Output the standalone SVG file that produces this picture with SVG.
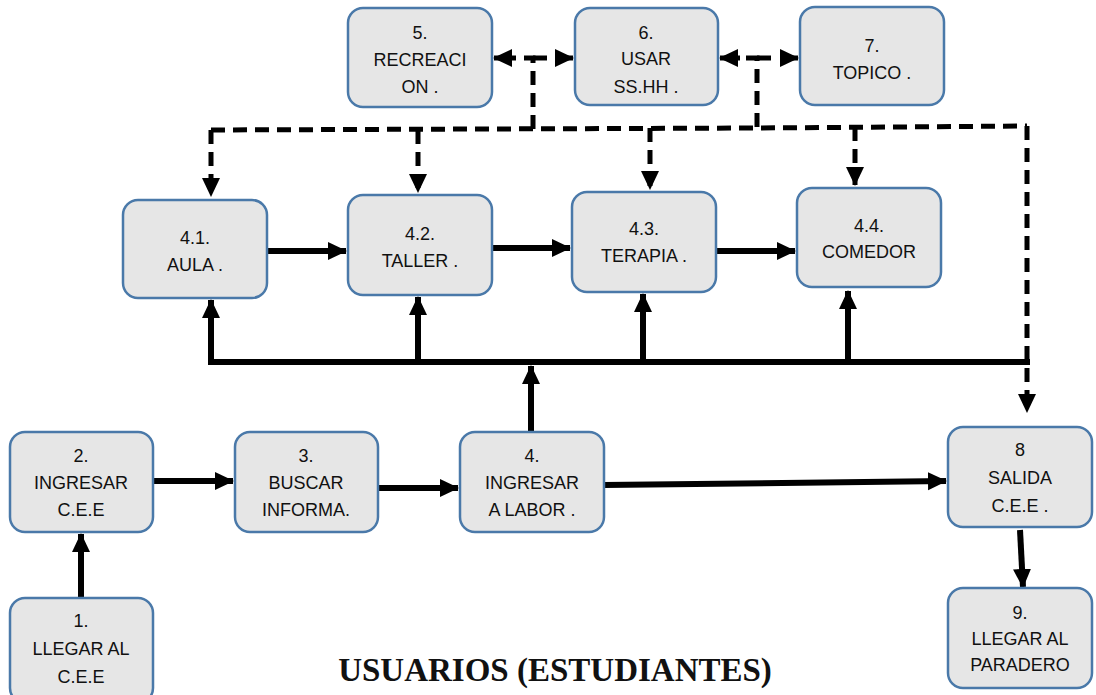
<svg xmlns="http://www.w3.org/2000/svg" width="1096" height="695" viewBox="0 0 1096 695">
<defs>
<style>
.box{fill:#e6e6e6;stroke:#4a79a9;stroke-width:2.5}
.t{font-family:"Liberation Sans",Arial,sans-serif;font-size:18px;fill:#111;text-anchor:middle}
.s{fill:none;stroke:#000;stroke-width:6}
.d{fill:none;stroke:#000;stroke-width:5;stroke-dasharray:14 8}
.title{font-family:"Liberation Serif","Times New Roman",serif;font-size:33px;font-weight:bold;fill:#111;text-anchor:middle}
</style>
<marker id="ah" markerUnits="userSpaceOnUse" markerWidth="20" markerHeight="20" viewBox="0 0 20 20" refX="18" refY="10" orient="auto">
<path d="M0,1 L19,10 L0,19 Z" fill="#000"/>
</marker>
</defs>
<rect width="1096" height="695" fill="#fff"/>
<g id="connectors">
<line class="s" x1="267" y1="251" x2="346" y2="251" marker-end="url(#ah)"/>
<line class="s" x1="492" y1="248" x2="570" y2="248" marker-end="url(#ah)"/>
<line class="s" x1="716" y1="251" x2="795" y2="251" marker-end="url(#ah)"/>
<polyline class="s" points="211,330 211,362 1030,362"/>
<line class="s" x1="211" y1="362" x2="211" y2="300" marker-end="url(#ah)"/>
<line class="s" x1="418" y1="362" x2="418" y2="297" marker-end="url(#ah)"/>
<line class="s" x1="643" y1="359" x2="643" y2="294" marker-end="url(#ah)"/>
<line class="s" x1="848" y1="362" x2="848" y2="291" marker-end="url(#ah)"/>
<line class="s" x1="531" y1="432" x2="531" y2="366" marker-end="url(#ah)"/>
<line class="s" x1="153" y1="481" x2="233" y2="481" marker-end="url(#ah)"/>
<line class="s" x1="378" y1="488" x2="458" y2="488" marker-end="url(#ah)"/>
<line class="s" x1="604" y1="485" x2="946" y2="481" marker-end="url(#ah)"/>
<line class="s" x1="81" y1="598" x2="81" y2="534" marker-end="url(#ah)"/>
<line class="s" x1="1020" y1="530" x2="1023" y2="587" marker-end="url(#ah)"/>
<polyline class="d" points="211,130 757,128 1027,126"/>
<line class="d" x1="211" y1="130" x2="211" y2="196" marker-end="url(#ah)"/>
<line class="d" x1="418" y1="130" x2="418" y2="192" marker-end="url(#ah)"/>
<line class="d" x1="650" y1="128" x2="650" y2="189" marker-end="url(#ah)"/>
<line class="d" x1="855" y1="127" x2="855" y2="185" marker-end="url(#ah)"/>
<line class="d" x1="1027" y1="126" x2="1027" y2="412" marker-end="url(#ah)"/>
<polyline class="d" points="533,129 533,58 515,58"/>
<line class="s" x1="515" y1="58" x2="494" y2="58" marker-end="url(#ah)" style="stroke-width:5"/>
<line class="s" x1="555" y1="58" x2="573" y2="58" marker-end="url(#ah)" style="stroke-width:5"/>
<line class="d" x1="533" y1="58" x2="553" y2="58"/>
<polyline class="d" points="757,127 757,58 738,58"/>
<line class="s" x1="740" y1="58" x2="720" y2="58" marker-end="url(#ah)" style="stroke-width:5"/>
<line class="s" x1="780" y1="58" x2="798" y2="58" marker-end="url(#ah)" style="stroke-width:5"/>
<line class="d" x1="757" y1="58" x2="777" y2="58"/>
</g>
<g id="n5"><rect class="box" x="348" y="8" width="144" height="99" rx="15"/>
<text class="t" x="420" y="39">5.</text><text class="t" x="420" y="66">RECREACI</text><text class="t" x="420" y="93">ON .</text></g>
<g id="n6"><rect class="box" x="575" y="8" width="143" height="97" rx="15"/>
<text class="t" x="646" y="39">6.</text><text class="t" x="646" y="65">USAR</text><text class="t" x="646" y="93">SS.HH .</text></g>
<g id="n7"><rect class="box" x="800" y="7" width="144" height="98" rx="15"/>
<text class="t" x="872" y="52">7.</text><text class="t" x="872" y="79">TOPICO .</text></g>
<g id="n41"><rect class="box" x="123" y="200" width="144" height="98" rx="15"/>
<text class="t" x="195" y="244">4.1.</text><text class="t" x="195" y="271">AULA .</text></g>
<g id="n42"><rect class="box" x="348" y="195" width="144" height="100" rx="15"/>
<text class="t" x="420" y="240">4.2.</text><text class="t" x="420" y="267">TALLER .</text></g>
<g id="n43"><rect class="box" x="572" y="192" width="144" height="100" rx="15"/>
<text class="t" x="644" y="235">4.3.</text><text class="t" x="644" y="262">TERAPIA .</text></g>
<g id="n44"><rect class="box" x="797" y="188" width="144" height="99" rx="15"/>
<text class="t" x="869" y="232">4.4.</text><text class="t" x="869" y="258">COMEDOR</text></g>
<g id="n2"><rect class="box" x="10" y="432" width="143" height="100" rx="15"/>
<text class="t" x="81" y="462">2.</text><text class="t" x="81" y="489">INGRESAR</text><text class="t" x="81" y="516">C.E.E</text></g>
<g id="n3"><rect class="box" x="235" y="432" width="143" height="100" rx="15"/>
<text class="t" x="306" y="462">3.</text><text class="t" x="306" y="489">BUSCAR</text><text class="t" x="306" y="516">INFORMA.</text></g>
<g id="n4"><rect class="box" x="460" y="432" width="144" height="100" rx="15"/>
<text class="t" x="532" y="462">4.</text><text class="t" x="532" y="489">INGRESAR</text><text class="t" x="532" y="516">A LABOR .</text></g>
<g id="n1"><rect class="box" x="10" y="598" width="143" height="105" rx="15"/>
<text class="t" x="81" y="627">1.</text><text class="t" x="81" y="655">LLEGAR AL</text><text class="t" x="81" y="683">C.E.E</text></g>
<g id="n8"><rect class="box" x="948" y="427" width="144" height="100" rx="15"/>
<text class="t" x="1020" y="456">8</text><text class="t" x="1020" y="484">SALIDA</text><text class="t" x="1020" y="512">C.E.E .</text></g>
<g id="n9"><rect class="box" x="948" y="588" width="144" height="100" rx="15"/>
<text class="t" x="1020" y="619">9.</text><text class="t" x="1020" y="645">LLEGAR AL</text><text class="t" x="1020" y="671">PARADERO</text></g>
<text class="title" x="555" y="681">USUARIOS (ESTUDIANTES)</text>
</svg>
